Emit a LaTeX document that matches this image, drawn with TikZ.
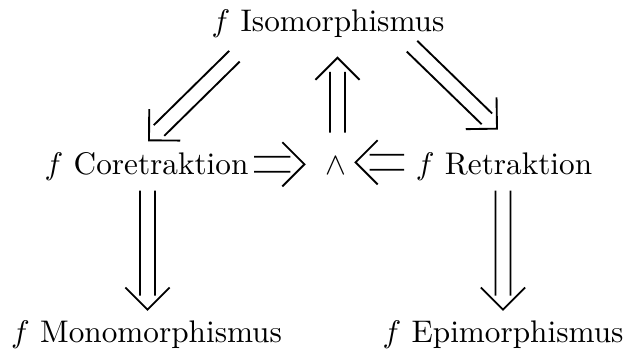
\documentclass[tikz,border=0pt]{standalone}
\usepackage{amsmath, amssymb}
\usepackage{tikz}
\usetikzlibrary{calc}

\begin{document}
\begin{tikzpicture}[x=0.32pt, y=-0.32pt,
    obj/.style={anchor=base, inner sep=0pt},
    impl/.style={line width=0.6pt, to path={
      let \p1=(\tikztostart), \p2=(\tikztotarget),
          \n1={atan2(\y2-\y1,\x2-\x1)} in
      ($(\p1)+(\n1+90:2.4pt)$) -- ($(\p2)+(\n1+90:2.4pt)+(\n1:-4.5pt)$)
      ($(\p1)+(\n1-90:2.4pt)$) -- ($(\p2)+(\n1-90:2.4pt)+(\n1:-4.5pt)$)
      ($(\p2)+(\n1+135:10pt)$) -- (\p2) -- ($(\p2)+(\n1-135:10pt)$)}}]
  \useasboundingbox (0,0) rectangle (624,351);
  % objects
  \node[obj] (iso) at (328,32) {$f$ Isomorphismus};
  \node[obj] (core) at (146.5,175) {$f$ Coretraktion};
  \node[obj] (conj) at (335.5,175) {$\wedge$};
  \node[obj] (retr) at (504,175) {$f$ Retraktion};
  \node[obj] (mono) at (146.5,343) {$f$ Monomorphismus};
  \node[obj] (epi) at (503,343) {$f$ Epimorphismus};
  % implications
  \draw[impl] ($(iso.south)+(-93.5,17.5)$) to ($(core.north)+(2.5,-12)$);
  \draw[impl] ($(iso.south)+(84,7.5)$) to ($(retr.north)+(-7,-24)$);
  \draw[impl] ($(conj.north)+(2,-24.5)$) to ($(iso.south)+(9.5,19)$);
  \draw[impl] ($(core.east |- conj)+(5,-2)$) to ($(conj.west)+(-20,-2)$);
  \draw[impl] ($(retr.west |- conj)+(-11,-4)$) to ($(conj.east)+(9,-4)$);
  \draw[impl] ($(core.south)+(1,9)$) to ($(mono.north)+(1,-11)$);
  \draw[impl] ($(retr.south)+(-1,9)$) to ($(epi.north)+(0,-11)$);
\end{tikzpicture}
\end{document}
